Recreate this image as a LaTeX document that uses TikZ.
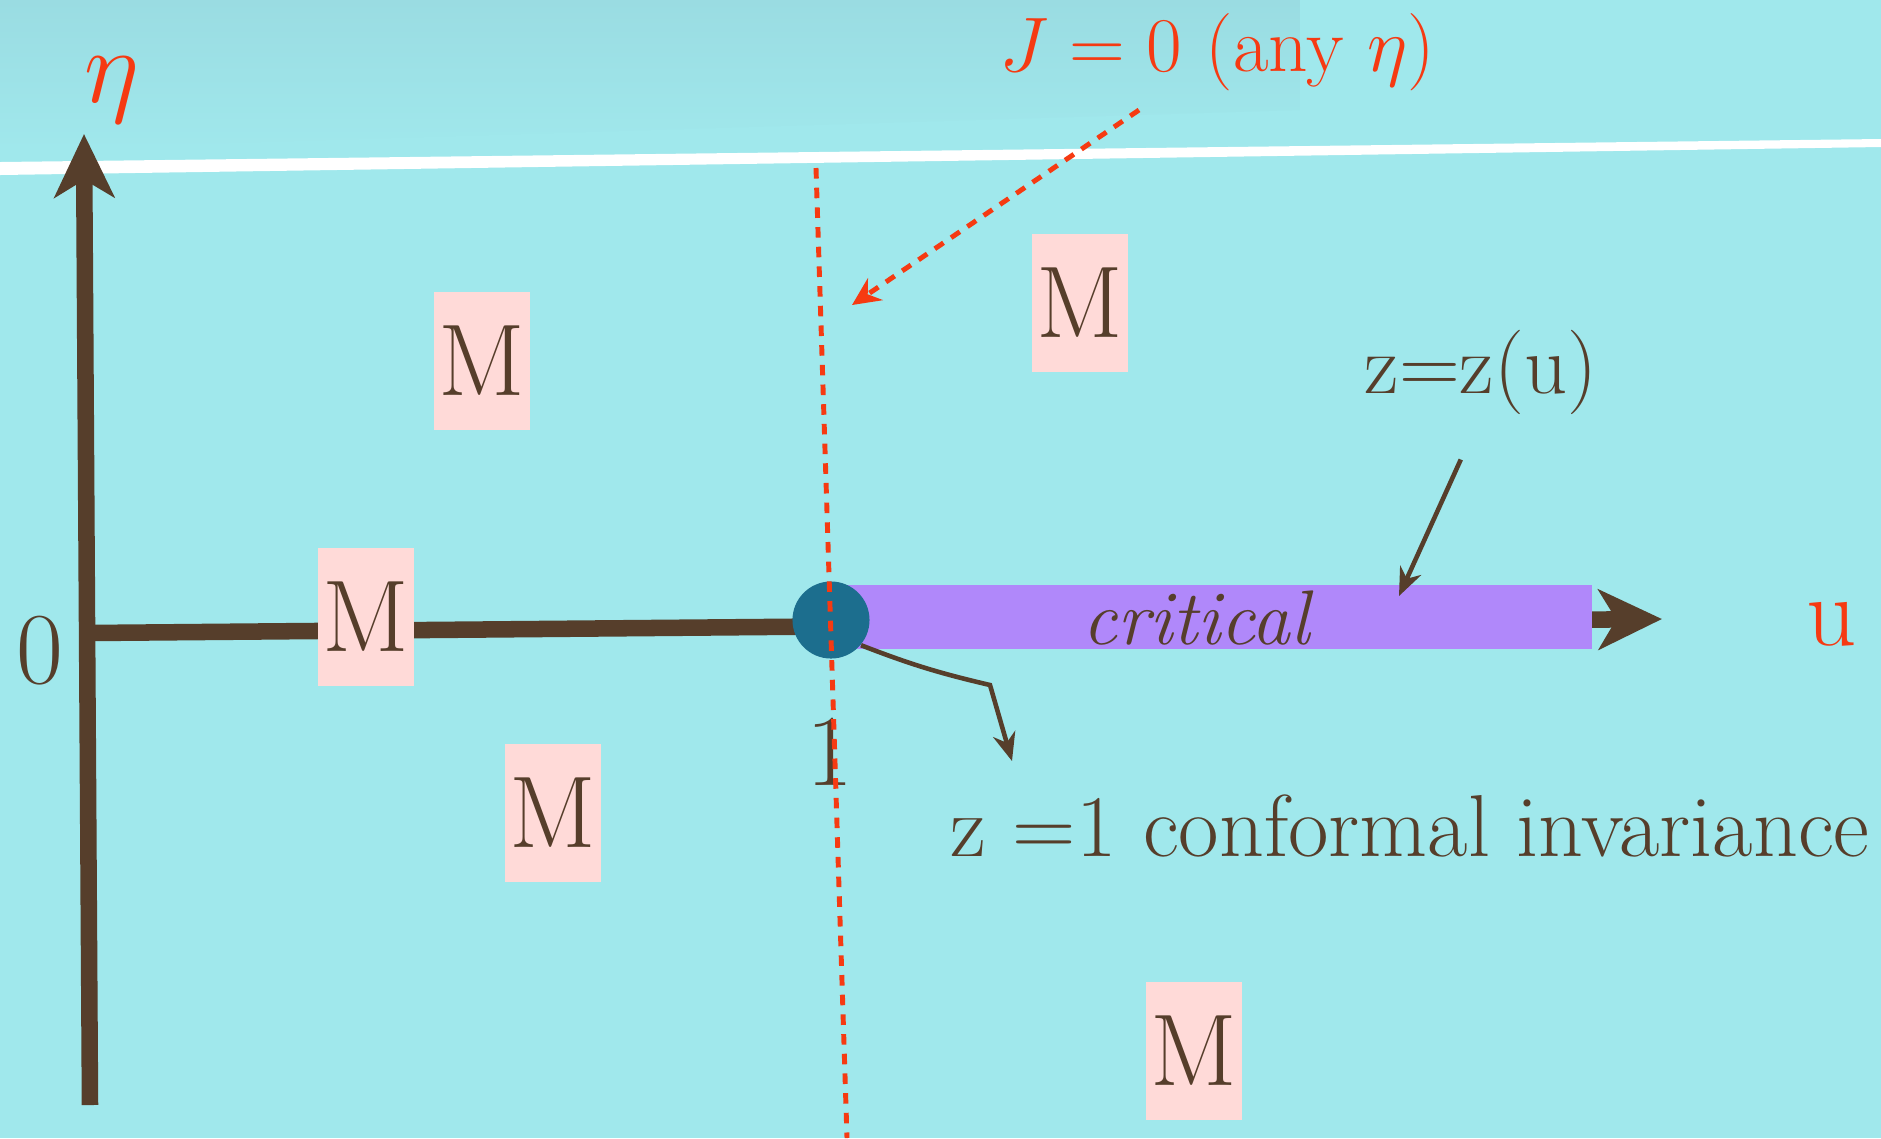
\RequirePackage{fix-cm}
\documentclass[tikz,border=0pt]{standalone}
\usepackage{fontspec}
\usetikzlibrary{arrows.meta,positioning}
\definecolor{fondo}{RGB}{160,232,236}
\definecolor{fondoalto}{RGB}{154,220,226}
\definecolor{marrone}{RGB}{86,62,43}
\definecolor{rosso}{RGB}{246,58,18}
\definecolor{viola}{RGB}{176,136,250}
\definecolor{blu}{RGB}{28,110,142}
\definecolor{rosa}{RGB}{255,218,216}
\begin{document}
\begin{tikzpicture}[x=0.01cm,y=-0.01cm,
        fase/.style={fill=rosa,text=marrone,inner sep=0pt,minimum width=0.95cm,
                     minimum height=1.38cm,font=\fontsize{29}{29}\selectfont},
        asse/.style={draw=marrone,line width=4.7pt,
                     -{Stealth[length=18pt,width=17pt,inset=5pt,fill=marrone]}},
        freccia/.style={draw=marrone,line width=1.3pt,
                     -{Stealth[length=8pt,width=6.5pt,fill=marrone]}},
        tratteggio/.style={draw=rosso,line width=1.4pt,dash pattern=on 3pt off 2.6pt},
        testo/.style={text=marrone,inner sep=0pt}]
        \useasboundingbox (0,0) rectangle (1881,1138);
        %sfondo
        \fill[fondo] (0,0) rectangle (1881,1138);
        \shade[top color=fondoalto,bottom color=fondo] (0,0)--(1300,0)--(1300,110)--(0,150)--cycle;
        \fill[white] (0,162)--(1881,139)--(1881,147)--(0,175)--cycle;
        %regioni M
        \node[fase] (m1) at (482,361) {M};
        \node[fase] (m2) at (1080,303) {M};
        \node[fase] (m4) at (553,813) {M};
        \node[fase] (m5) at (1194,1051) {M};
        %disegno asse eta
        \coordinate (etabasso) at (90,1105);
        \coordinate (etaalto) at (84,134);
        \draw[asse] (etabasso)--(etaalto);
        %disegno asse u
        \coordinate (origine) at (89,633);
        \coordinate (ufine) at (1662,619);
        \draw[asse] (origine)--(ufine);
        \node[fase] (m3) at (366,617) {M};
        %linea critica
        \node[fill=viola,minimum width=7.6cm,minimum height=0.64cm,inner sep=0pt,anchor=west]
             (barra) at (831,617) {};
        \node[circle,fill=blu,minimum size=0.77cm,inner sep=0pt] (crit) at (831,620) {};
        \node[testo,font=\fontsize{22}{22}\selectfont\itshape] (critico) at (1196,618) {critical};
        %label
        \node[testo,font=\fontsize{29}{29}\selectfont] (zero) at (40,651) {0};
        \node[testo,font=\fontsize{29}{29}\selectfont] (uno) at (830,752) {1};
        \node[text=rosso,inner sep=0pt,font=\fontsize{30}{30}\selectfont] (eta) at (112,90) {$\eta$};
        \node[text=rosso,inner sep=0pt,font=\fontsize{28}{28}\selectfont] (u) at (1832,624) {u};
        \node[text=rosso,inner sep=0pt,font=\fontsize{22}{22}\selectfont] (jzero) at (1217,52)
             {$J=0$ (any $\eta$)};
        \node[testo,font=\fontsize{24}{24}\selectfont] (zu) at (1481,372) {z=z(u)};
        \node[testo,font=\fontsize{25}{25}\selectfont,anchor=west] (conf) at (950,826)
             {z =1 conformal invariance};
        %linea J=0
        \coordinate (jalto) at (816,168);
        \coordinate (jbasso) at (847,1138);
        \draw[tratteggio] (jalto)--(jbasso);
        %frecce
        \coordinate (jinizio) at (1139,110);
        \coordinate (jpunta) at (852,305);
        \draw[tratteggio,-{Stealth[length=8pt,width=7.5pt,fill=rosso]}] (jinizio)--(jpunta);
        \coordinate (zupunta) at (1399,596);
        \draw[freccia,shorten <=0.49cm] (zu.south)--(zupunta);
        \coordinate (piega) at (990,685);
        \coordinate (confpunta) at (1012,761);
        \draw[freccia] (crit.-40) to[bend right=4] (piega)--(confpunta);
    \end{tikzpicture}
\end{document}
